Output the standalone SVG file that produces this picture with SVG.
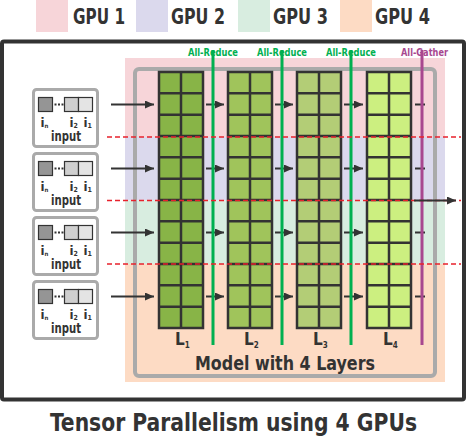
<svg xmlns="http://www.w3.org/2000/svg" width="466" height="441" viewBox="0 0 466 441">
  <style>
    .t { font-family: "DejaVu Sans Condensed", "Open Sans", "Liberation Sans", sans-serif; font-weight: bold; fill: #333; }
    .lbl { font-family: "DejaVu Sans Condensed", "Open Sans", "Liberation Sans", sans-serif; font-weight: bold; font-size: 10.5px; }
    .col { stroke: #333; stroke-width: 2.5; }
    .grid { fill: none; stroke: #333; stroke-width: 2.5; }
    .dash { stroke: #e8222c; stroke-width: 1.6; stroke-dasharray: 5 3; }
    .arr { stroke: #333; stroke-width: 2; fill: none; }
    .box { fill: #fff; stroke: #aaa; stroke-width: 3; }
    .ar { stroke: #00b050; stroke-width: 3; }
    .ag { stroke: #a8478f; stroke-width: 3; }
  </style>
  <defs>
    <marker id="ah" markerUnits="userSpaceOnUse" markerWidth="9" markerHeight="8" refX="9" refY="4" orient="auto">
      <path d="M0,0 L9,4 L0,8 z" fill="#333"/>
    </marker>
    <path id="gridlines" class="grid" d="M22,0 V256 M0,21.33 H44 M0,42.67 H44 M0,64 H44 M0,85.33 H44 M0,106.67 H44 M0,128 H44 M0,149.33 H44 M0,170.67 H44 M0,192 H44 M0,213.33 H44 M0,234.67 H44"/>
    <g id="inbox">
      <rect class="box" x="0" y="0" width="64" height="57" rx="3"/>
      <rect x="5" y="8" width="14" height="14" fill="#959595" stroke="#333" stroke-width="1.2"/>
      <line x1="21" y1="15" x2="30" y2="15" stroke="#333" stroke-width="2" stroke-dasharray="2 1.5"/>
      <rect x="31" y="8" width="14" height="14" fill="#cfcfcf" stroke="#333" stroke-width="1.2"/>
      <rect x="45" y="8" width="14" height="14" fill="#e4e4e4" stroke="#333" stroke-width="1.2"/>
      <text class="t" x="7" y="37" font-size="13">i<tspan font-size="6" dy="1">n</tspan></text>
      <text class="t" x="36" y="37" font-size="13">i<tspan font-size="7" dy="1">2</tspan></text>
      <text class="t" x="50" y="37" font-size="13">i<tspan font-size="7" dy="1">1</tspan></text>
      <text class="t" x="32.5" y="51" font-size="14" text-anchor="middle" textLength="30" lengthAdjust="spacingAndGlyphs">input</text>
    </g>
  </defs>

  <!-- legend -->
  <g id="legend">
    <rect x="36" y="0" width="32" height="32" fill="#f7d5d9"/>
    <text class="t" x="73" y="24" font-size="22" textLength="52" lengthAdjust="spacingAndGlyphs">GPU 1</text>
    <rect x="136" y="0" width="32" height="32" fill="#dbd9ed"/>
    <text class="t" x="171" y="24" font-size="22" textLength="54" lengthAdjust="spacingAndGlyphs">GPU 2</text>
    <rect x="238" y="0" width="32" height="32" fill="#d8ede0"/>
    <text class="t" x="273" y="24" font-size="22" textLength="55" lengthAdjust="spacingAndGlyphs">GPU 3</text>
    <rect x="340" y="0" width="32" height="32" fill="#fddbc4"/>
    <text class="t" x="375" y="24" font-size="22" textLength="55" lengthAdjust="spacingAndGlyphs">GPU 4</text>
  </g>

  <!-- frame -->
  <rect id="frame" x="2" y="41.5" width="462" height="358" rx="2" fill="#fff" stroke="#333" stroke-width="4"/>

  <!-- GPU bands -->
  <g id="bands">
    <rect x="125" y="58" width="320" height="79" fill="#f7d5d9"/>
    <rect x="125" y="137" width="320" height="63.5" fill="#dbd9ed"/>
    <rect x="125" y="200.5" width="320" height="63.5" fill="#d8ede0"/>
    <rect x="125" y="264" width="320" height="118" fill="#fddbc4"/>
  </g>

  <!-- model container -->
  <rect id="model" x="135" y="69" width="300" height="307" rx="4" fill="none" stroke="#aaa" stroke-width="4"/>

  <!-- inputs -->
  <g id="input1"><use href="#inbox" x="33.5" y="89.5"/></g>
  <g id="input2"><use href="#inbox" x="33.5" y="153.5"/></g>
  <g id="input3"><use href="#inbox" x="33.5" y="217.5"/></g>
  <g id="input4"><use href="#inbox" x="33.5" y="281.5"/></g>

  <!-- layers -->
  <g id="L1">
    <rect class="col" x="159" y="72" width="44" height="256" fill="#88b447"/>
    <use href="#gridlines" x="159" y="72"/>
    <text class="t" x="175" y="345" font-size="17">L<tspan font-size="8" dy="3">1</tspan></text>
  </g>
  <g id="L2">
    <rect class="col" x="228" y="72" width="44" height="256" fill="#a0c45b"/>
    <use href="#gridlines" x="228" y="72"/>
    <text class="t" x="244" y="345" font-size="17">L<tspan font-size="8" dy="3">2</tspan></text>
  </g>
  <g id="L3">
    <rect class="col" x="297" y="72" width="44" height="256" fill="#b3cd76"/>
    <use href="#gridlines" x="297" y="72"/>
    <text class="t" x="313" y="345" font-size="17">L<tspan font-size="8" dy="3">3</tspan></text>
  </g>
  <g id="L4">
    <rect class="col" x="367" y="72" width="44" height="256" fill="#ccef80"/>
    <use href="#gridlines" x="367" y="72"/>
    <text class="t" x="383" y="345" font-size="17">L<tspan font-size="8" dy="3">4</tspan></text>
  </g>

  <text id="model-label" class="t" x="285" y="370" font-size="20" text-anchor="middle" textLength="180" lengthAdjust="spacingAndGlyphs">Model with 4 Layers</text>

  <!-- connectors -->
  <g id="connectors">
    <g id="arrows">
      <line class="arr" x1="111" y1="104.5" x2="154" y2="104.5" marker-end="url(#ah)"/>
      <line class="arr" x1="111" y1="168.5" x2="154" y2="168.5" marker-end="url(#ah)"/>
      <line class="arr" x1="111" y1="232.5" x2="154" y2="232.5" marker-end="url(#ah)"/>
      <line class="arr" x1="111" y1="296.5" x2="154" y2="296.5" marker-end="url(#ah)"/>

      <line class="arr" x1="206" y1="104.5" x2="224" y2="104.5" marker-end="url(#ah)"/>
      <line class="arr" x1="206" y1="168.5" x2="224" y2="168.5" marker-end="url(#ah)"/>
      <line class="arr" x1="206" y1="232.5" x2="224" y2="232.5" marker-end="url(#ah)"/>
      <line class="arr" x1="206" y1="296.5" x2="224" y2="296.5" marker-end="url(#ah)"/>

      <line class="arr" x1="275" y1="104.5" x2="293" y2="104.5" marker-end="url(#ah)"/>
      <line class="arr" x1="275" y1="168.5" x2="293" y2="168.5" marker-end="url(#ah)"/>
      <line class="arr" x1="275" y1="232.5" x2="293" y2="232.5" marker-end="url(#ah)"/>
      <line class="arr" x1="275" y1="296.5" x2="293" y2="296.5" marker-end="url(#ah)"/>

      <line class="arr" x1="344" y1="104.5" x2="363" y2="104.5" marker-end="url(#ah)"/>
      <line class="arr" x1="344" y1="168.5" x2="363" y2="168.5" marker-end="url(#ah)"/>
      <line class="arr" x1="344" y1="232.5" x2="363" y2="232.5" marker-end="url(#ah)"/>
      <line class="arr" x1="344" y1="296.5" x2="363" y2="296.5" marker-end="url(#ah)"/>

      <line class="arr" x1="415" y1="104.5" x2="425" y2="104.5"/>
      <line class="arr" x1="415" y1="168.5" x2="425" y2="168.5"/>
      <line class="arr" x1="415" y1="232.5" x2="425" y2="232.5"/>
      <line class="arr" x1="415" y1="296.5" x2="425" y2="296.5"/>
    </g>

    <g id="collectives">
      <line class="ar" x1="213" y1="50" x2="213" y2="345"/>
      <line class="ar" x1="282" y1="50" x2="282" y2="345"/>
      <line class="ar" x1="351" y1="50" x2="351" y2="345"/>
      <line class="ag" x1="422" y1="50" x2="422" y2="345"/>
      <text class="lbl" x="213" y="55.5" fill="#00b050" text-anchor="middle" textLength="50" lengthAdjust="spacingAndGlyphs">All-Reduce</text>
      <text class="lbl" x="282" y="55.5" fill="#00b050" text-anchor="middle" textLength="50" lengthAdjust="spacingAndGlyphs">All-Reduce</text>
      <text class="lbl" x="351" y="55.5" fill="#00b050" text-anchor="middle" textLength="50" lengthAdjust="spacingAndGlyphs">All-Reduce</text>
      <text class="lbl" x="424.5" y="55.5" fill="#a8478f" text-anchor="middle" textLength="47" lengthAdjust="spacingAndGlyphs">All-Gather</text>
    </g>

    <g id="splits">
      <line class="dash" x1="107" y1="137" x2="461" y2="137"/>
      <line class="dash" x1="107" y1="200.5" x2="461" y2="200.5"/>
      <line class="dash" x1="107" y1="264" x2="461" y2="264"/>
    </g>

    <line id="output" class="arr" x1="414" y1="200.5" x2="456" y2="200.5" marker-end="url(#ah)"/>
  </g>

  <text id="title" class="t" x="233.5" y="431" font-size="25" text-anchor="middle" textLength="367" lengthAdjust="spacingAndGlyphs">Tensor Parallelism using 4 GPUs</text>
</svg>
